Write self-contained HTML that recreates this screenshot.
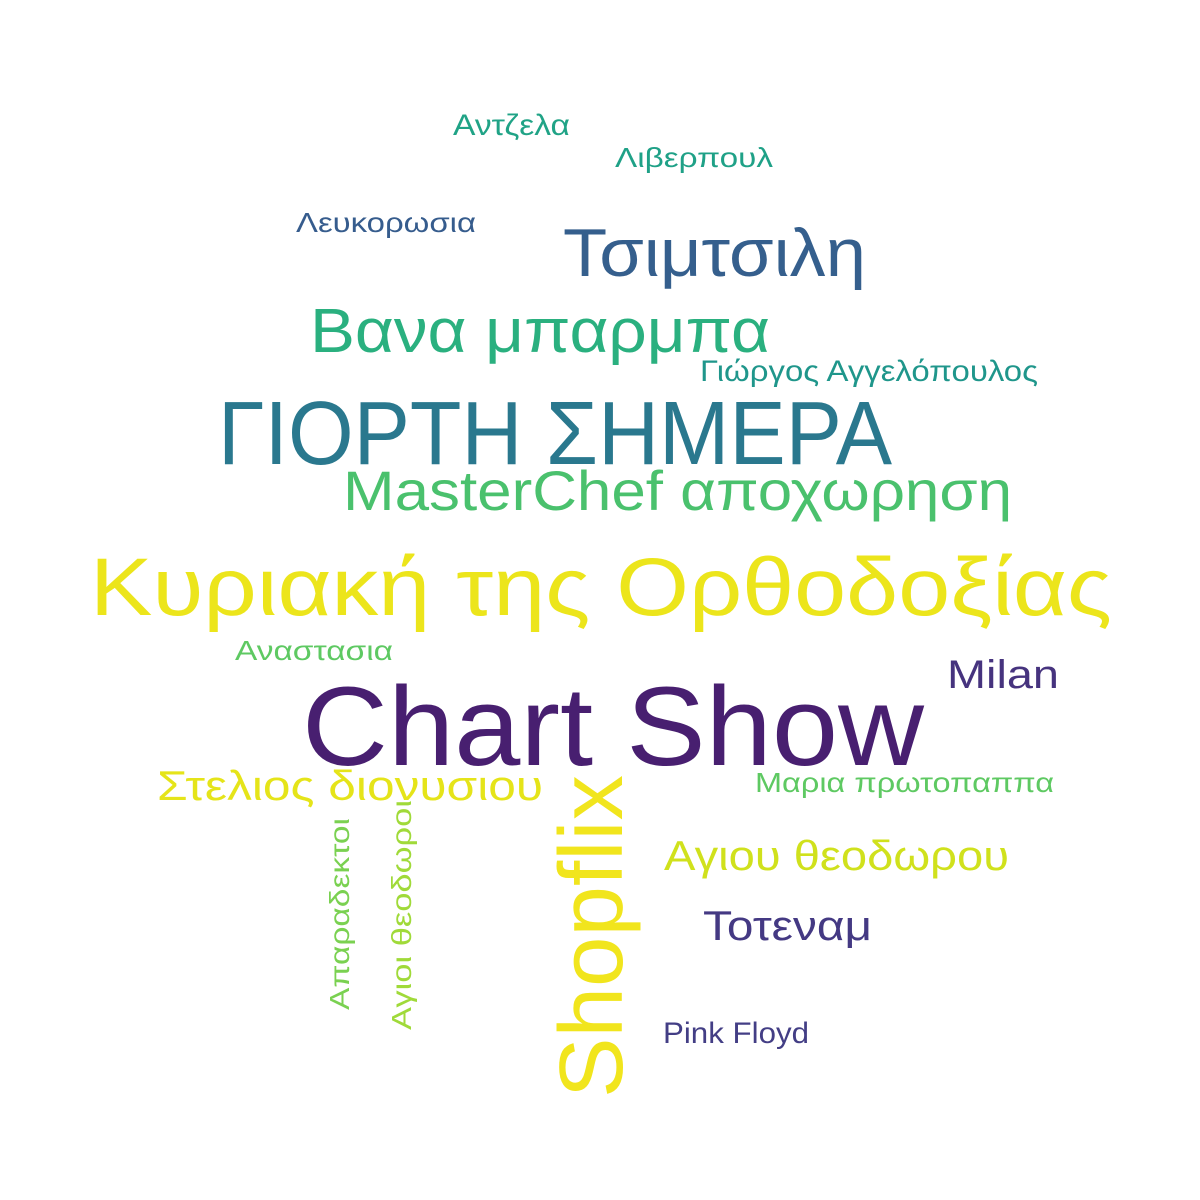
<!DOCTYPE html>
<html>
<head>
<meta charset="utf-8">
<style>
  html, body { margin: 0; padding: 0; background: #ffffff; }
  svg { display: block; }
  text { font-family: "Liberation Sans", "DejaVu Sans", sans-serif; }
</style>
</head>
<body>
<svg id="cloud" width="1200" height="1200" viewBox="0 0 1200 1200" xmlns="http://www.w3.org/2000/svg">
  <rect width="1200" height="1200" fill="#ffffff"></rect>
</svg>
<script>
const words = ["Αντζελα","Λιβερπουλ","Λευκορωσια","Τσιμτσιλη","Βανα μπαρμπα","Γιώργος Αγγελόπουλος","ΓΙΟΡΤΗ ΣΗΜΕΡΑ","MasterChef αποχωρηση","Κυριακή της Ορθοδοξίας","Αναστασια","Milan","Chart Show","Στελιος διονυσιου","Μαρια πρωτοπαππα","Αγιου θεοδωρου","Τοτεναμ","Pink Floyd","Shopflix","Απαραδεκτοι","Αγιοι θεοδωροι"];
const weights = [30,28,28,68,62,30,90,56,82,28,40,112,42,28,42,42,30,90,28,28];
const colors = ["#20a386","#1fa187","#365c8d","#355f8d","#2ab07f","#1f968b","#2a788e","#4ac16d","#ece51b","#5ec962","#46337e","#481f70","#e5e419","#5ec962","#d0e11c","#443983","#433e85","#f1e51d","#7ad151","#a0da39"];
// layout (not data): x, baseline y, text length, rotated flag
const layout = [
  [453,135,117,0],[615,167,158,0],[296,232,180,0],[563,276,303,0],
  [310,352,460,0],[700,381,338,0],[218,464,674,0],[343,510,669,0],
  [90,615,1022,0],[235,660,158,0],[947,688,112,0],[302,765,622,0],
  [157,800,386,0],[755,792,299,0],[664,870,345,0],[703,940,169,0],
  [663,1043,146,0],[622,1098,323,1],[349,1010,192,1],[411,1030,230,1]
];
const svg = document.getElementById('cloud');
const NS = 'http://www.w3.org/2000/svg';
words.forEach((w, i) => {
  const [x, y, len, rot] = layout[i];
  const t = document.createElementNS(NS, 'text');
  t.textContent = w;
  t.setAttribute('font-size', weights[i]);
  t.setAttribute('fill', colors[i]);
  t.setAttribute('textLength', len);
  t.setAttribute('lengthAdjust', 'spacingAndGlyphs');
  if (rot) {
    t.setAttribute('transform', 'translate(' + x + ',' + y + ') rotate(-90)');
    t.setAttribute('x', 0); t.setAttribute('y', 0);
  } else {
    t.setAttribute('x', x); t.setAttribute('y', y);
  }
  
  
  svg.appendChild(t);
});
</script>
</body>
</html>
